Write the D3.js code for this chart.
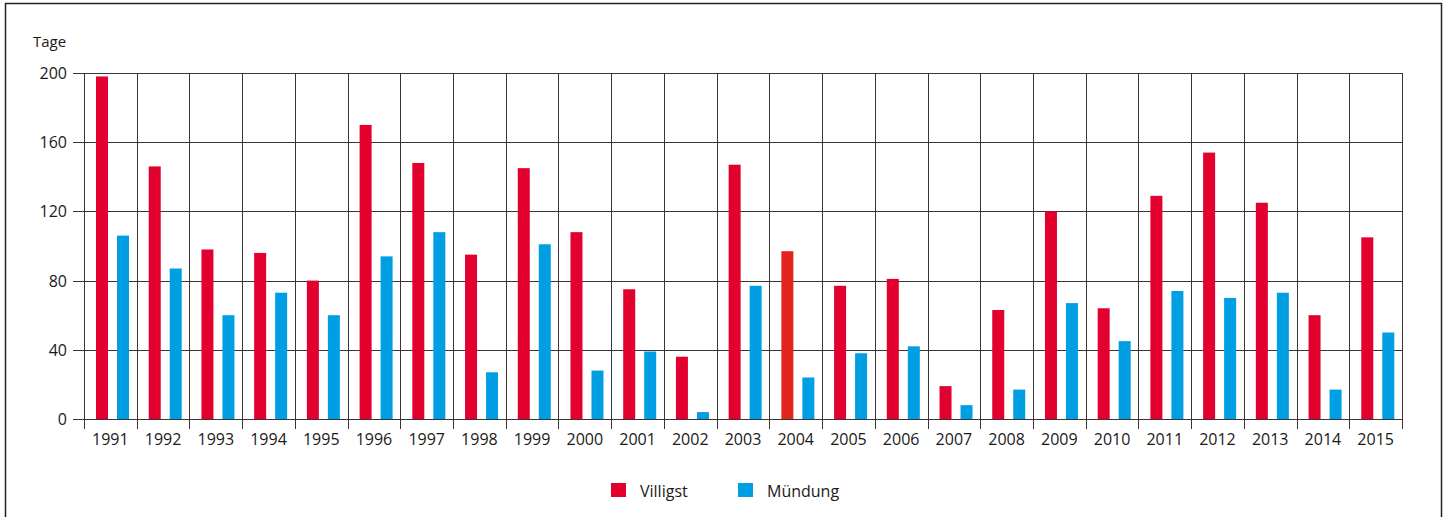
<!DOCTYPE html>
<html lang="de">
<head>
<meta charset="utf-8">
<script src="https://cdn.jsdelivr.net/npm/d3@7"></script>
<style>
  html, body { margin: 0; padding: 0; background: #fff; }
  svg { display: block; font-family: "Open Sans", "Noto Sans", sans-serif; }
  .tick-label { font-size: 16px; fill: #1a1a1a; }
  .legend-label { font-size: 16px; fill: #1a1a1a; }
</style>
</head>
<body>
<svg id="chart" width="1448" height="517"></svg>
<script>
const jahre = ["1991","1992","1993","1994","1995","1996","1997","1998","1999","2000",
  "2001","2002","2003","2004","2005","2006","2007","2008","2009","2010",
  "2011","2012","2013","2014","2015"];

const villigst = [198, 146, 98, 96, 80, 170, 148, 95, 145, 108,
  75, 36, 147, 97, 77, 81, 19, 63, 120, 64,
  129, 154, 125, 60, 105];

const muendung = [106, 87, 60, 73, 60, 94, 108, 27, 101, 28,
  39, 4, 77, 24, 38, 42, 8, 17, 67, 45,
  74, 70, 73, 17, 50];

const yTicks = [0, 40, 80, 120, 160, 200];
const serien = ["Villigst", "Mündung"];

const farben = { "Villigst": "#e2002f", "Mündung": "#009fe3" };
const farbeHervorgehoben = "#e3261d"; // 2004 anders eingefärbt
const jahrHervorgehoben = "2004";
const gitter = "#3b3336";

const svg = d3.select("#chart");
const width = 1448, height = 517;

// Rahmen
svg.append("rect")
  .attr("x", 5.5).attr("y", 3.5)
  .attr("width", 1436).attr("height", height)
  .attr("fill", "none").attr("stroke", "#222").attr("stroke-width", 1.5);

const rand = { left: 84, right: 1402, top: 73, bottom: 419 };

const x = d3.scaleBand()
  .domain(jahre)
  .range([rand.left, rand.right]);

const y = d3.scaleLinear()
  .domain([0, 200])
  .range([rand.bottom, rand.top]);

const g = svg.append("g");

// horizontale Gitterlinien
g.selectAll("line.h")
  .data(yTicks)
  .join("line")
  .attr("class", "h")
  .attr("x1", rand.left - 11).attr("x2", rand.right)
  .attr("y1", d => Math.round(y(d)) + 0.5).attr("y2", d => Math.round(y(d)) + 0.5)
  .attr("stroke", gitter).attr("stroke-width", 1);

// vertikale Linien (Bandgrenzen)
const grenzen = jahre.map(j => x(j)).concat([rand.right]);
g.selectAll("line.v")
  .data(grenzen)
  .join("line")
  .attr("class", "v")
  .attr("x1", d => Math.round(d) + 0.5).attr("x2", d => Math.round(d) + 0.5)
  .attr("y1", rand.top).attr("y2", rand.bottom + 10)
  .attr("stroke", gitter).attr("stroke-width", 1);

// Balken
const bw = x.bandwidth();
const barBreite = 12;
const versatz = { "Villigst": 12, "Mündung": 33 };

serien.forEach(s => {
  const werte = s === "Villigst" ? villigst : muendung;
  g.selectAll("rect.bar-" + s)
    .data(jahre.map((j, i) => ({ jahr: j, wert: werte[i] })))
    .join("rect")
    .attr("x", d => x(d.jahr) + versatz[s] * bw / 52.72)
    .attr("y", d => y(d.wert))
    .attr("width", barBreite)
    .attr("height", d => y(0) - y(d.wert))
    .attr("fill", d => (s === "Villigst" && d.jahr === jahrHervorgehoben) ? farbeHervorgehoben : farben[s]);
});

// Nulllinie über die Balken
g.append("line")
  .attr("x1", rand.left - 11).attr("x2", rand.right)
  .attr("y1", Math.round(y(0)) + 0.5).attr("y2", Math.round(y(0)) + 0.5)
  .attr("stroke", gitter);

// y-Beschriftung
svg.selectAll("text.ylab")
  .data(yTicks)
  .join("text")
  .attr("class", "tick-label ylab")
  .attr("x", 67)
  .attr("y", d => y(d) + 6)
  .attr("text-anchor", "end")
  .text(d => d);

svg.append("text")
  .attr("class", "tick-label")
  .attr("x", 33).attr("y", 47)
  .style("font-size", "15px")
  .text("Tage");

// x-Beschriftung
svg.selectAll("text.xlab")
  .data(jahre)
  .join("text")
  .attr("class", "tick-label xlab")
  .attr("x", d => x(d) + bw / 2)
  .attr("y", 445)
  .attr("text-anchor", "middle")
  .text(d => d);

// Legende
const legende = [
  { name: "Villigst", x: 611 },
  { name: "Mündung", x: 738 }
];
const lg = svg.selectAll("g.legend")
  .data(legende)
  .join("g")
  .attr("class", "legend")
  .attr("transform", d => `translate(${d.x},483)`);

lg.append("rect")
  .attr("width", 15).attr("height", 14)
  .attr("fill", d => farben[d.name]);

lg.append("text")
  .attr("class", "legend-label")
  .attr("x", 29).attr("y", 14)
  .text(d => d.name);
</script>
</body>
</html>
